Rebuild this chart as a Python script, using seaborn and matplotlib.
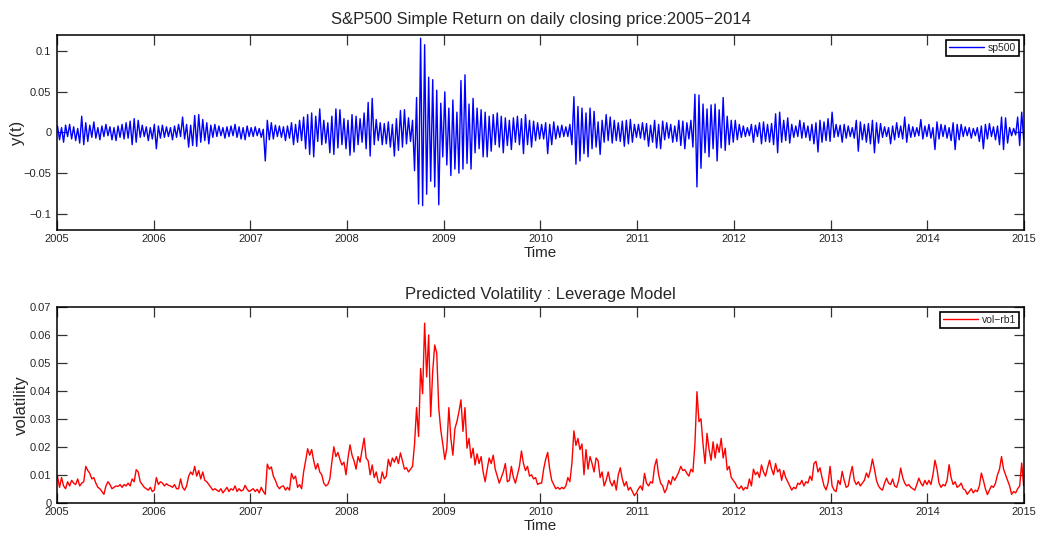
import numpy as np
import pandas as pd
import matplotlib
matplotlib.use("Agg")
import matplotlib.pyplot as plt
import matplotlib.dates as mdates
from matplotlib.ticker import FixedLocator, FuncFormatter
import seaborn as sns

# ---------------- data (4 samples per month) ----------------
start_date = "2005-01-03"
end_date = "2014-12-31"

# S&P500 simple daily returns, in percent
ret_pct = [
    # 2005
    0.8, -0.9, 0.6, -1.2, 0.9, -0.5, 1.0, -0.8, 0.7, -1.0, 0.5, -1.3,
    2.0, -1.5, 1.2, -1.1, 0.9, -0.6, 1.3, -0.7, 0.6, -0.9, 0.8, -0.5,
    1.0, -0.4, 0.7, -0.9, 0.6, -1.0, 0.8, -0.6, 1.0, -0.8, 1.2, -0.7,
    1.4, -1.5, 1.7, -1.2, 1.5, -0.6, 0.9, -0.5, 0.7, -1.0, 0.6, -0.8,
    # 2006
    1.0, -2.0, 0.8, -0.7, 0.9, -0.6, 0.7, -0.5, 0.6, -0.9, 0.8, -0.6,
    1.0, -0.5, 1.9, -0.8, 1.0, -1.8, 0.9, -1.6, 2.1, -1.7, 2.2, -1.2,
    1.6, -1.0, 1.2, -1.4, 0.9, -0.6, 1.0, -0.5, 0.8, -0.4, 0.6, -0.7,
    0.7, -0.5, 0.8, -0.4, 1.0, -0.6, 0.7, -0.8, 0.6, -0.9, 0.8, -0.5,
    # 2007
    0.6, -0.5, 0.7, -0.4, 0.5, -0.6, 0.4, -3.5, 1.5, -0.9, 1.2, -0.8,
    0.9, -0.5, 0.8, -0.6, 0.7, -1.0, 0.8, -0.7, 1.2, -1.5, 1.0, -1.2,
    1.5, -1.0, 1.9, -2.0, 2.2, -2.7, 2.4, -3.0, 2.0, -1.1, 2.9, -1.5,
    1.5, -1.3, 1.2, -2.5, 2.0, -2.7, 2.9, -1.9, 2.8, -1.5, 1.7, -2.0,
    # 2008
    1.5, -2.8, 2.2, -2.4, 2.0, -1.5, 1.7, -1.2, 2.4, -2.0, 3.7, -2.9,
    4.2, -1.5, 1.6, -1.0, 1.2, -1.5, 1.1, -1.4, 1.3, -1.8, 1.0, -2.9,
    1.7, -2.2, 2.7, -1.8, 2.8, -1.4, 1.8, -1.1, 1.5, -4.7, 4.3, -8.8,
    11.6, -9.0, 10.8, -7.6, 6.8, -6.0, 6.5, -6.7, 5.2, -8.9, 3.6, -3.0,
    # 2009
    5.0, -4.0, 3.0, -5.3, 4.0, -4.5, 2.5, -5.0, 6.4, -4.5, 7.1, -3.8,
    3.5, -4.5, 4.2, -2.5, 3.0, -2.0, 2.8, -3.0, 2.5, -3.0, 2.0, -2.3,
    2.2, -1.5, 2.4, -1.8, 2.0, -2.5, 1.8, -1.6, 1.5, -2.1, 1.8, -1.2,
    2.0, -1.5, 1.7, -2.6, 2.2, -1.5, 1.5, -1.8, 1.4, -1.0, 1.2, -0.8,
    # 2010
    1.0, -0.8, 1.2, -2.6, 1.0, -1.5, 1.3, -0.8, 0.8, -0.6, 0.9, -0.5,
    0.7, -0.5, 1.0, -1.5, 4.4, -3.9, 3.2, -3.5, 3.0, -2.6, 2.4, -3.0,
    3.0, -2.0, 2.6, -1.8, 1.3, -2.7, 1.5, -1.2, 2.2, -1.0, 1.9, -1.3,
    1.5, -1.0, 1.2, -1.1, 1.4, -1.7, 1.5, -1.4, 1.6, -1.2, 1.0, -0.6,
    # 2011
    1.0, -0.7, 1.2, -0.9, 1.1, -1.7, 0.9, -1.2, 1.5, -1.9, 1.0, -2.0,
    1.4, -0.9, 1.2, -0.7, 1.0, -1.2, 0.8, -1.1, 1.5, -1.6, 1.4, -2.0,
    1.2, -0.8, 1.5, -1.8, 4.7, -6.7, 4.6, -4.4, 3.5, -2.5, 2.9, -3.0,
    3.4, -2.0, 3.5, -3.5, 2.8, -1.9, 4.3, -2.2, 2.0, -1.5, 1.5, -1.2,
    # 2012
    1.5, -0.9, 1.0, -0.6, 0.8, -0.5, 0.6, -0.4, 1.0, -1.2, 0.9, -0.5,
    1.2, -1.4, 1.3, -1.1, 1.0, -1.2, 1.1, -1.5, 2.3, -2.5, 2.5, -1.2,
    1.5, -1.0, 1.8, -1.3, 1.0, -0.6, 0.8, -0.5, 1.5, -0.7, 1.2, -0.6,
    0.8, -1.0, 1.0, -1.4, 1.2, -2.4, 1.5, -1.2, 1.3, -1.0, 1.7, -1.1,
    # 2013
    2.5, -0.6, 1.0, -0.5, 0.9, -1.2, 1.0, -0.7, 0.8, -0.5, 0.6, -0.7,
    1.5, -2.3, 1.3, -0.9, 1.0, -1.2, 1.1, -1.4, 1.5, -2.5, 1.2, -1.3,
    1.1, -0.6, 0.7, -0.5, 0.6, -1.4, 0.8, -0.9, 1.2, -0.6, 0.8, -0.8,
    1.9, -1.2, 1.0, -0.6, 0.7, -0.5, 0.6, -0.4, 1.6, -0.8, 0.8, -0.5,
    # 2014
    1.0, -0.7, 0.6, -2.1, 1.3, -0.8, 1.0, -0.5, 0.9, -0.7, 0.6, -1.0,
    1.2, -2.1, 1.0, -0.9, 1.0, -0.5, 0.7, -0.4, 0.6, -0.7, 0.5, -0.4,
    0.6, -1.1, 0.8, -2.0, 1.0, -0.8, 1.1, -0.5, 0.7, -0.9, 0.8, -1.5,
    1.9, -2.1, 1.8, -1.3, 0.6, -0.4, 0.5, -0.3, 1.9, -1.6, 2.5, -0.9,
]

# Predicted volatility (leverage model)
vol = [
    # 2005
    0.0094, 0.0055, 0.0090, 0.0060, 0.0050, 0.0075, 0.0060, 0.0080, 0.0070, 0.0065, 0.0085, 0.0060,
    0.0070, 0.0075, 0.0130, 0.0115, 0.0105, 0.0085, 0.0090, 0.0070, 0.0055, 0.0050, 0.0040, 0.0030,
    0.0060, 0.0075, 0.0065, 0.0050, 0.0055, 0.0060, 0.0058, 0.0065, 0.0055, 0.0065, 0.0060, 0.0070,
    0.0060, 0.0085, 0.0075, 0.0118, 0.0110, 0.0075, 0.0065, 0.0055, 0.0050, 0.0045, 0.0055, 0.0040,
    # 2006
    0.0045, 0.0090, 0.0065, 0.0075, 0.0070, 0.0060, 0.0068, 0.0062, 0.0060, 0.0055, 0.0065, 0.0050,
    0.0050, 0.0085, 0.0055, 0.0045, 0.0060, 0.0095, 0.0110, 0.0100, 0.0130, 0.0095, 0.0115, 0.0085,
    0.0110, 0.0080, 0.0075, 0.0065, 0.0055, 0.0045, 0.0050, 0.0045, 0.0040, 0.0050, 0.0035, 0.0045,
    0.0055, 0.0040, 0.0050, 0.0045, 0.0060, 0.0040, 0.0050, 0.0042, 0.0045, 0.0062, 0.0048, 0.0040,
    # 2007
    0.0045, 0.0050, 0.0040, 0.0048, 0.0035, 0.0055, 0.0040, 0.0030, 0.0138, 0.0120, 0.0128, 0.0095,
    0.0080, 0.0060, 0.0050, 0.0058, 0.0060, 0.0045, 0.0055, 0.0045, 0.0105, 0.0085, 0.0095, 0.0055,
    0.0065, 0.0050, 0.0110, 0.0150, 0.0193, 0.0170, 0.0190, 0.0150, 0.0120, 0.0140, 0.0110, 0.0100,
    0.0070, 0.0060, 0.0065, 0.0085, 0.0145, 0.0200, 0.0165, 0.0180, 0.0155, 0.0135, 0.0145, 0.0100,
    # 2008
    0.0160, 0.0207, 0.0170, 0.0150, 0.0120, 0.0165, 0.0145, 0.0190, 0.0231, 0.0160, 0.0150, 0.0100,
    0.0135, 0.0090, 0.0110, 0.0075, 0.0070, 0.0110, 0.0085, 0.0095, 0.0155, 0.0130, 0.0160, 0.0145,
    0.0165, 0.0140, 0.0178, 0.0150, 0.0120, 0.0125, 0.0110, 0.0120, 0.0130, 0.0210, 0.0340, 0.0237,
    0.0480, 0.0390, 0.0642, 0.0450, 0.0600, 0.0308, 0.0470, 0.0564, 0.0535, 0.0338, 0.0260, 0.0210,
    # 2009
    0.0155, 0.0195, 0.0340, 0.0230, 0.0170, 0.0265, 0.0290, 0.0325, 0.0368, 0.0255, 0.0340, 0.0195,
    0.0230, 0.0160, 0.0195, 0.0135, 0.0175, 0.0140, 0.0165, 0.0110, 0.0075, 0.0120, 0.0160, 0.0140,
    0.0170, 0.0120, 0.0095, 0.0070, 0.0090, 0.0110, 0.0140, 0.0075, 0.0080, 0.0130, 0.0090, 0.0070,
    0.0100, 0.0130, 0.0185, 0.0140, 0.0115, 0.0130, 0.0095, 0.0100, 0.0085, 0.0090, 0.0065, 0.0070,
    # 2010
    0.0070, 0.0120, 0.0155, 0.0180, 0.0120, 0.0080, 0.0065, 0.0050, 0.0055, 0.0048, 0.0055, 0.0050,
    0.0060, 0.0090, 0.0075, 0.0140, 0.0257, 0.0205, 0.0230, 0.0190, 0.0210, 0.0100, 0.0190, 0.0120,
    0.0165, 0.0140, 0.0110, 0.0160, 0.0150, 0.0090, 0.0110, 0.0060, 0.0080, 0.0110, 0.0075, 0.0060,
    0.0080, 0.0045, 0.0100, 0.0125, 0.0085, 0.0060, 0.0075, 0.0045, 0.0055, 0.0040, 0.0025, 0.0035,
    # 2011
    0.0050, 0.0060, 0.0045, 0.0105, 0.0070, 0.0060, 0.0075, 0.0070, 0.0130, 0.0156, 0.0100, 0.0070,
    0.0060, 0.0036, 0.0050, 0.0080, 0.0065, 0.0093, 0.0080, 0.0095, 0.0110, 0.0130, 0.0115, 0.0118,
    0.0105, 0.0095, 0.0120, 0.0110, 0.0210, 0.0397, 0.0290, 0.0300, 0.0210, 0.0140, 0.0248, 0.0190,
    0.0152, 0.0218, 0.0160, 0.0210, 0.0180, 0.0230, 0.0160, 0.0195, 0.0117, 0.0130, 0.0090, 0.0080,
    # 2012
    0.0070, 0.0055, 0.0050, 0.0060, 0.0045, 0.0055, 0.0050, 0.0085, 0.0060, 0.0120, 0.0100, 0.0110,
    0.0090, 0.0135, 0.0110, 0.0095, 0.0125, 0.0152, 0.0120, 0.0100, 0.0140, 0.0110, 0.0120, 0.0080,
    0.0115, 0.0090, 0.0075, 0.0060, 0.0045, 0.0055, 0.0050, 0.0070, 0.0065, 0.0080, 0.0060, 0.0075,
    0.0070, 0.0095, 0.0080, 0.0140, 0.0148, 0.0110, 0.0125, 0.0090, 0.0060, 0.0046, 0.0070, 0.0130,
    # 2013
    0.0060, 0.0045, 0.0040, 0.0080, 0.0065, 0.0112, 0.0080, 0.0055, 0.0060, 0.0100, 0.0130, 0.0080,
    0.0065, 0.0075, 0.0060, 0.0070, 0.0080, 0.0106, 0.0090, 0.0117, 0.0156, 0.0120, 0.0080, 0.0060,
    0.0050, 0.0045, 0.0070, 0.0088, 0.0070, 0.0065, 0.0085, 0.0060, 0.0055, 0.0080, 0.0124, 0.0090,
    0.0070, 0.0060, 0.0065, 0.0055, 0.0050, 0.0045, 0.0065, 0.0088, 0.0070, 0.0060, 0.0080, 0.0065,
    # 2014
    0.0080, 0.0065, 0.0100, 0.0152, 0.0120, 0.0070, 0.0055, 0.0065, 0.0060, 0.0080, 0.0136, 0.0090,
    0.0065, 0.0075, 0.0055, 0.0060, 0.0070, 0.0050, 0.0045, 0.0030, 0.0040, 0.0050, 0.0035, 0.0045,
    0.0040, 0.0060, 0.0106, 0.0080, 0.0050, 0.0029, 0.0045, 0.0060, 0.0055, 0.0070, 0.0100, 0.0120,
    0.0165, 0.0120, 0.0100, 0.0080, 0.0060, 0.0030, 0.0040, 0.0035, 0.0050, 0.0060, 0.0142, 0.0060,
]

year_ticks = list(range(2005, 2016))
ret_yticks = [-0.1, -0.05, 0, 0.05, 0.1]
vol_yticks = [0, 0.01, 0.02, 0.03, 0.04, 0.05, 0.06, 0.07]

title_top = "S&P500 Simple Return on daily closing price:2005\u22122014"
title_bot = "Predicted Volatility : Leverage Model"
label_ret = "sp500"
label_vol = "vol\u2212rb1"

# ---------------- build frame ----------------
dates = pd.date_range(start_date, end_date, periods=len(ret_pct))
df = pd.DataFrame({"date": dates,
                   "ret": np.array(ret_pct) / 100.0,
                   "vol": np.array(vol)})

# ---------------- style ----------------
sns.set_style("white")
plt.rcParams["font.family"] = ["Liberation Sans", "DejaVu Sans"]
plt.rcParams["axes.unicode_minus"] = True

fig = plt.figure(figsize=(10.4, 5.34), dpi=100)
ax1 = fig.add_axes([0.0548, 0.5693, 0.9298, 0.3652])
ax2 = fig.add_axes([0.0548, 0.0586, 0.9298, 0.3665])

sns.lineplot(data=df, x="date", y="ret", ax=ax1, color="#0000ff",
             linewidth=1.0, estimator=None, label=label_ret)
sns.lineplot(data=df, x="date", y="vol", ax=ax2, color="#ff0000",
             linewidth=1.0, estimator=None, label=label_vol)


def yfmt(v, pos):
    if abs(v) < 1e-12:
        return "0"
    return ("%g" % v).replace("-", "\u2212")


tick_dates = [pd.Timestamp(f"{y}-01-01") for y in year_ticks]
for ax, yt, ylim in ((ax1, ret_yticks, (-0.12, 0.12)), (ax2, vol_yticks, (0, 0.07))):
    ax.set_xlim(pd.Timestamp("2005-01-01"), pd.Timestamp("2015-01-01"))
    ax.set_ylim(*ylim)
    ax.xaxis.set_major_locator(FixedLocator(mdates.date2num(tick_dates)))
    ax.xaxis.set_major_formatter(mdates.DateFormatter("%Y"))
    ax.yaxis.set_major_locator(FixedLocator(yt))
    ax.yaxis.set_major_formatter(FuncFormatter(yfmt))
    ax.tick_params(axis="both", which="major", direction="in", length=7,
                   width=0.9, color="#333333", labelsize=8,
                   top=True, right=True, bottom=True, left=True, pad=4)
    ax.tick_params(axis="x", pad=3)
    for sp in ax.spines.values():
        sp.set_visible(True)
        sp.set_color("black")
        sp.set_linewidth(1.1)
    ax.set_xlabel("Time", fontsize=11, labelpad=1.5)
    leg = ax.legend(loc="upper right", fontsize=7.5, frameon=True, fancybox=False,
                    framealpha=1, edgecolor="black", borderaxespad=0.45,
                    handlelength=3.3, handletextpad=0.4, borderpad=0.3)
    leg.get_frame().set_linewidth(1.2)

ax1.set_ylabel("y(t)", fontsize=12)
ax2.set_ylabel("volatility", fontsize=12)
ax1.yaxis.set_label_coords(-0.033, 0.5)
ax2.yaxis.set_label_coords(-0.029, 0.5)
ax1.set_title(title_top, fontsize=12, pad=8)
ax2.set_title(title_bot, fontsize=12, pad=6)

fig.savefig("out.png", dpi=100)
